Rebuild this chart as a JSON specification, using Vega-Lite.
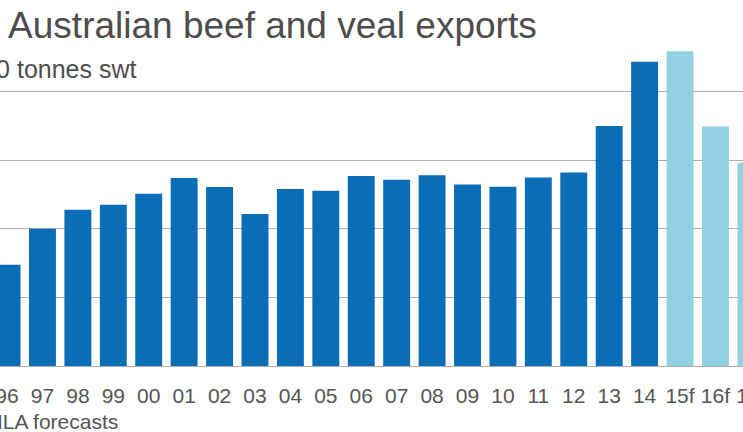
{
  "$schema": "https://vega.github.io/schema/vega-lite/v6.json",
  "width": 743,
  "height": 344,
  "autosize": {"type": "none"},
  "padding": {"top": 22, "left": 0, "right": 0, "bottom": 66},
  "background": "white",
  "title": {
    "text": "1. Australian beef and veal exports",
    "anchor": "start",
    "frame": "group",
    "baseline": "alphabetic",
    "dx": -31,
    "offset": -53,
    "font": "Liberation Sans",
    "fontSize": 37,
    "fontWeight": "normal",
    "color": "#4d4d4d"
  },
  "data": {
    "values": [
      {"year": "96", "value": 441, "type": "actual"},
      {"year": "97", "value": 598, "type": "actual"},
      {"year": "98", "value": 681, "type": "actual"},
      {"year": "99", "value": 703, "type": "actual"},
      {"year": "00", "value": 751, "type": "actual"},
      {"year": "01", "value": 820, "type": "actual"},
      {"year": "02", "value": 781, "type": "actual"},
      {"year": "03", "value": 663, "type": "actual"},
      {"year": "04", "value": 772, "type": "actual"},
      {"year": "05", "value": 764, "type": "actual"},
      {"year": "06", "value": 829, "type": "actual"},
      {"year": "07", "value": 812, "type": "actual"},
      {"year": "08", "value": 832, "type": "actual"},
      {"year": "09", "value": 791, "type": "actual"},
      {"year": "10", "value": 782, "type": "actual"},
      {"year": "11", "value": 822, "type": "actual"},
      {"year": "12", "value": 844, "type": "actual"},
      {"year": "13", "value": 1047, "type": "actual"},
      {"year": "14", "value": 1327, "type": "actual"},
      {"year": "15f", "value": 1372, "type": "forecast"},
      {"year": "16f", "value": 1044, "type": "forecast"},
      {"year": "17f", "value": 886, "type": "forecast"}
    ]
  },
  "mark": {"type": "bar"},
  "encoding": {
    "x": {
      "field": "year",
      "type": "ordinal",
      "sort": null,
      "scale": {"range": [-10.67, 768.57], "paddingInner": 0.24, "paddingOuter": 0.12},
      "axis": {
        "title": "Source: MLA forecasts",
        "titleFont": "Liberation Sans",
        "titleFontSize": 21,
        "titleFontWeight": "normal",
        "titleColor": "#555555",
        "titleAnchor": "start",
        "titleAlign": "left",
        "titleBaseline": "alphabetic",
        "titleX": -93.5,
        "titleY": 62,
        "labelFont": "Liberation Sans",
        "labelFontSize": 21,
        "labelColor": "#555555",
        "labelAngle": 0,
        "labelBaseline": "alphabetic",
        "labelPadding": 36,
        "labelOverlap": false,
        "ticks": false,
        "tickSize": 0,
        "domain": false,
        "grid": false
      }
    },
    "y": {
      "field": "value",
      "type": "quantitative",
      "scale": {"domain": [0, 1500], "nice": false},
      "axis": {
        "values": [0, 300, 600, 900, 1200],
        "grid": true,
        "gridColor": "#b0b0b0",
        "gridWidth": 1,
        "labels": false,
        "ticks": false,
        "domain": false,
        "title": "'000 tonnes swt",
        "titleAngle": 0,
        "titleAlign": "left",
        "titleAnchor": "start",
        "titleBaseline": "alphabetic",
        "titleX": -37,
        "titleY": 55,
        "titleFont": "Liberation Sans",
        "titleFontSize": 25,
        "titleFontWeight": "normal",
        "titleColor": "#4d4d4d"
      }
    },
    "color": {
      "field": "type",
      "type": "nominal",
      "scale": {"domain": ["actual", "forecast"], "range": ["#0a6db6", "#93d0e1"]},
      "legend": null
    }
  },
  "config": {"view": {"stroke": null}}
}
